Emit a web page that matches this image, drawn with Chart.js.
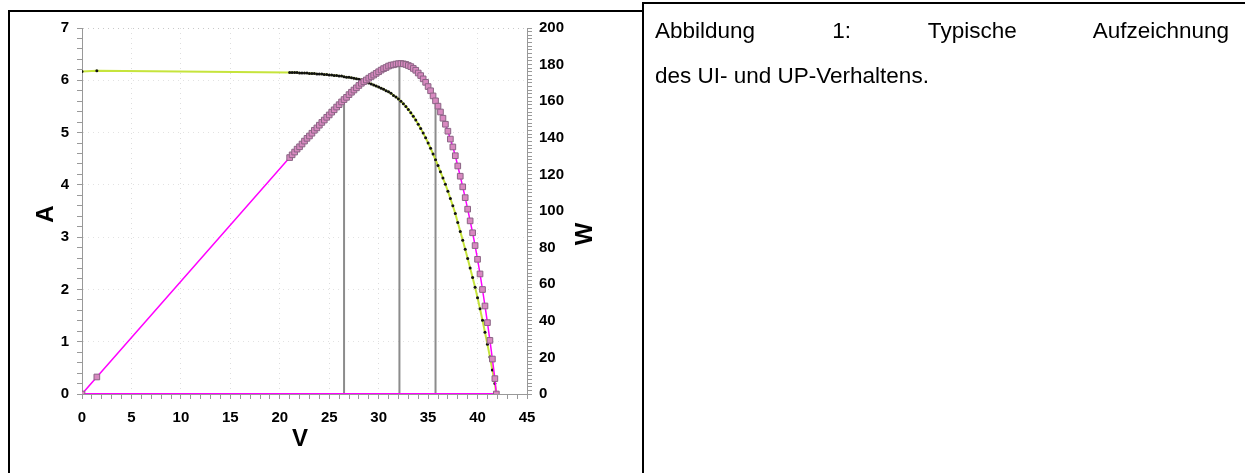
<!DOCTYPE html>
<html><head><meta charset="utf-8">
<script src="https://cdn.jsdelivr.net/npm/chart.js@4.4.0/dist/chart.umd.min.js"></script>
<style>
html,body{margin:0;padding:0;background:#fff;width:1245px;height:473px;overflow:hidden;}
#wrap{position:absolute;left:0;top:0;width:640px;height:473px;}
.b{position:absolute;background:#000;}
.t{position:absolute;left:655px;width:574px;font-family:"Liberation Sans",Arial,sans-serif;font-size:22.5px;line-height:45px;color:#000;white-space:nowrap;}
#t1{top:8px;text-align:justify;text-align-last:justify;}
#t2{top:53px;text-align:left;}
</style></head><body>
<div id="wrap"><canvas id="c" width="640" height="473"></canvas></div>
<div class="b" style="left:8px;top:10px;width:636px;height:2px"></div>
<div class="b" style="left:8px;top:10px;width:2px;height:463px"></div>
<div class="b" style="left:642px;top:2px;width:2px;height:471px"></div>
<div class="b" style="left:642px;top:2px;width:603px;height:2px"></div>
<div class="t" id="t1">Abbildung 1: Typische Aufzeichnung</div>
<div class="t" id="t2">des UI- und UP-Verhaltens.</div>
<script>
// Voltage (V) of each measured point
const voltage = [0, 1.5,
 21.00,21.25,21.50,21.75, 22.00,22.25,22.50,22.75, 23.00,23.25,23.50,23.75, 24.00,24.25,24.50,24.75,
 25.00,25.25,25.50,25.75, 26.00,26.25,26.50,26.75, 27.00,27.25,27.50,27.75, 28.00,28.25,28.50,28.75,
 29.00,29.25,29.50,29.75, 30.00,30.25,30.50,30.75, 31.00,31.25,31.50,31.75, 32.00,32.25,32.50,32.75,
 33.00,33.25,33.50,33.75, 34.00,34.25,34.50,34.75, 35.00,35.25,35.50,35.75, 36.00,36.25,36.50,36.75,
 37.00,37.25,37.50,37.75, 38.00,38.25,38.50,38.75, 39.00,39.25,39.50,39.75, 40.00,40.25,40.50,40.75,
 41.00,41.25,41.50,41.75, 41.90];
// Current (A), left axis
const current = [6.17, 6.18,
 6.15,6.15,6.15,6.15, 6.14,6.14,6.14,6.14, 6.13,6.13,6.13,6.12, 6.12,6.12,6.11,6.11,
 6.10,6.10,6.09,6.09, 6.08,6.08,6.07,6.06, 6.06,6.05,6.04,6.03, 6.02,6.01,5.99,5.97,
 5.95,5.93,5.91,5.89, 5.87,5.85,5.83,5.80, 5.78,5.75,5.71,5.68, 5.64,5.60,5.55,5.50,
 5.44,5.38,5.31,5.24, 5.16,5.08,4.99,4.90, 4.80,4.70,4.59,4.48, 4.37,4.25,4.13,4.01,
 3.88,3.74,3.60,3.45, 3.28,3.11,2.94,2.77, 2.59,2.41,2.23,2.04, 1.84,1.63,1.41,1.18,
 0.95,0.71,0.46,0.20, 0.00];
// Power (W), right axis
const power = [0, 9.3,
 129.2,130.7,132.2,133.8, 135.1,136.6,138.2,139.7, 141.0,142.5,144.1,145.4, 146.9,148.4,149.7,151.2,
 152.5,154.0,155.3,156.8, 158.1,159.6,160.9,162.1, 163.6,164.9,166.1,167.3, 168.6,169.8,170.7,171.6,
 172.6,173.5,174.3,175.2, 176.1,177.0,177.8,178.4, 179.2,179.7,179.9,180.3, 180.5,180.6,180.4,180.1,
 179.5,178.9,177.9,176.9, 175.4,174.0,172.2,170.3, 168.0,165.7,162.9,160.2, 157.3,154.1,150.7,147.4,
 143.6,139.3,135.0,130.2, 124.6,119.0,113.2,107.3, 101.0,94.6,88.1,81.1, 73.6,65.6,57.1,48.1,
 39.0,29.3,19.1,8.4, 0];
// zero line
const zeroVolts = [0, 41.9];
const zeroWatts = [0, 0];
// vertical marker lines (V, top W)
const markerVolts = [26.5, 32.1, 35.75];
const markerWatts = [160.9, 180.6, 160.2];
// axis labels
const axisTitles = {x: 'V', left: 'A', right: 'W'};
const xLabelStep = 5, leftLabelStep = 1, rightLabelStep = 20;

const FONT = '"Liberation Sans", Arial, Helvetica, sans-serif';
const pts = (xs, ys) => xs.map((x, i) => ({x, y: ys[i]}));
const isMult = (v, s) => Math.abs(v / s - Math.round(v / s)) < 1e-6;

const datasets = [
  {label: 'P', data: pts(voltage, power), yAxisID: 'y1', borderColor: '#ff00ff', borderWidth: 1.5,
   pointStyle: 'rect', pointRadius: 4, pointBackgroundColor: '#d889c0', pointBorderColor: '#8a6484', pointBorderWidth: 1, tension: 0},
  {label: 'I', data: pts(voltage, current), yAxisID: 'y', borderColor: '#c6e43c', borderWidth: 2,
   pointRadius: 1.5, pointBackgroundColor: '#111', pointBorderWidth: 0, tension: 0},
  {label: 'zero', data: pts(zeroVolts, zeroWatts), yAxisID: 'y1', borderColor: '#ff00ff', borderWidth: 2, pointRadius: 0}
];
markerVolts.forEach((v, i) => datasets.push({label: 'm' + i, data: [{x: v, y: 0}, {x: v, y: markerWatts[i]}],
  yAxisID: 'y1', borderColor: '#8c8c8c', borderWidth: 2, pointRadius: 0}));

const titles = {
  id: 'titles',
  afterDraw(chart) {
    const ctx = chart.ctx, a = chart.chartArea;
    ctx.save();
    ctx.fillStyle = '#000';
    ctx.textAlign = 'center'; ctx.textBaseline = 'middle';
    ctx.font = 'bold 24px ' + FONT;
    ctx.save(); ctx.translate(a.left - 36, 214); ctx.rotate(-Math.PI / 2); ctx.fillText(axisTitles.left, 0, 0); ctx.restore();
    ctx.save(); ctx.translate(a.right + 58, 234); ctx.rotate(-Math.PI / 2); ctx.fillText(axisTitles.right, 0, 0); ctx.restore();
    ctx.fillText(axisTitles.x, 300, 439);
    ctx.restore();
  }
};

const tickFont = {family: FONT, size: 15, weight: 'bold'};
new Chart(document.getElementById('c'), {
  type: 'line',
  data: {datasets},
  options: {
    responsive: false, animation: false,
    layout: {padding: {top: 28, left: 0, right: 0, bottom: 0}},
    plugins: {legend: {display: false}, tooltip: {enabled: false}},
    scales: {
      x: {type: 'linear', min: 0, max: 45,
        afterFit: s => { s.height = 79; },
        ticks: {stepSize: 1, autoSkip: false, maxRotation: 0, font: tickFont, color: '#000', padding: 10,
          callback: v => isMult(v, xLabelStep) ? String(Math.round(v)) : ''},
        grid: {color: c => (c.tick && isMult(c.tick.value, xLabelStep) && c.tick.value > 0 && c.tick.value < 45) ? '#dedede' : 'rgba(0,0,0,0)',
          tickColor: '#999', tickLength: 5, lineWidth: 1},
        border: {color: '#999', width: 1, dash: [1, 4]}
      },
      y: {type: 'linear', position: 'left', min: 0, max: 7,
        afterFit: s => { s.width = 82; },
        ticks: {stepSize: 0.2, autoSkip: false, font: tickFont, color: '#000', padding: 8,
          callback: v => isMult(v, leftLabelStep) ? String(Math.round(v)) : ''},
        grid: {color: c => (c.tick && isMult(c.tick.value, leftLabelStep) && c.tick.value > 0) ? (c.tick.value >= 7 ? '#c8c8c8' : '#e2e2e2') : 'rgba(0,0,0,0)',
          tickColor: '#999', tickLength: 5, lineWidth: 1},
        border: {color: '#999', width: 1, dash: [1, 4]}
      },
      y1: {type: 'linear', position: 'right', min: 0, max: 200,
        afterFit: s => { s.width = 113; },
        ticks: {stepSize: 2, autoSkip: false, font: tickFont, color: '#000', padding: 7,
          callback: v => isMult(v, rightLabelStep) ? String(Math.round(v)) : ''},
        grid: {drawOnChartArea: false, tickColor: '#999', tickLength: 5},
        border: {color: '#999', width: 1}
      }
    }
  },
  plugins: [titles]
});
</script>
</body></html>
